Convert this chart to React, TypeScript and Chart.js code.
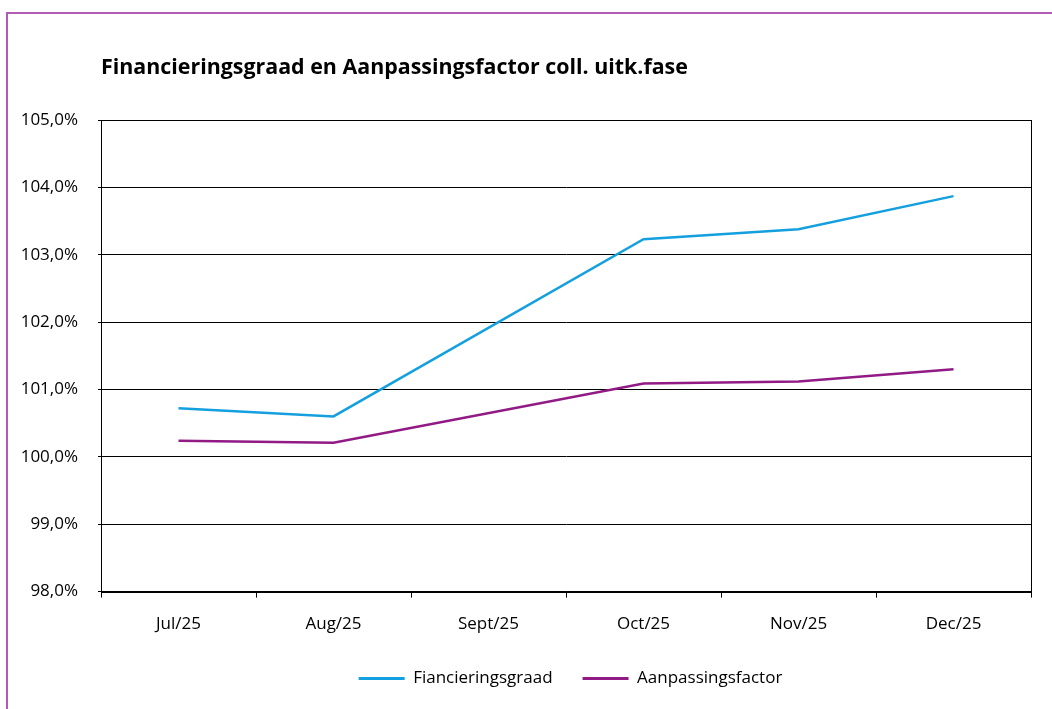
import React, { useEffect, useRef } from 'react';
import { Chart, registerables } from 'chart.js';

Chart.register(...registerables);

const categories = ['Jul/25', 'Aug/25', 'Sept/25', 'Oct/25', 'Nov/25', 'Dec/25'];
const financieringsgraad = [100.72, 100.6, null, 103.23, 103.38, 103.87];
const aanpassingsfactor = [100.24, 100.21, null, 101.09, 101.12, 101.3];
const yMin = 98;
const yMax = 105;
const yStep = 1;
const titleText = 'Financieringsgraad en Aanpassingsfactor coll. uitk.fase';
const seriesNames = ['Fiancieringsgraad', 'Aanpassingsfactor'];

const FONT = "'Open Sans', sans-serif";
const BLUE = '#14a0de';
const PURPLE = '#921a85';

const framePlugin = {
  id: 'frameAndTitle',
  afterLayout(chart: any) {
    const lg = chart.legend;
    if (lg) {
      const shiftX = 55;
      const shiftY = -10;
      lg.left += shiftX;
      lg.right += shiftX;
      lg.top += shiftY;
      lg.bottom += shiftY;
    }
  },
  afterDraw(chart: any) {
    const { ctx, chartArea } = chart;
    ctx.save();
    ctx.strokeStyle = '#000';
    ctx.lineWidth = 1;
    ctx.strokeRect(
      Math.round(chartArea.left) + 0.5,
      Math.round(chartArea.top) + 0.5,
      Math.round(chartArea.right - chartArea.left),
      Math.round(chartArea.bottom - chartArea.top)
    );
    ctx.fillStyle = '#000';
    ctx.font = `bold 21.4px ${FONT}`;
    ctx.textBaseline = 'middle';
    ctx.textAlign = 'left';
    ctx.fillText(titleText, chartArea.left, 68);
    ctx.restore();
  },
};

export default function App() {
  const ref = useRef<HTMLCanvasElement | null>(null);
  useEffect(() => {
    document.body.style.margin = '0';
    const chart = new Chart(ref.current as HTMLCanvasElement, {
      type: 'line',
      data: {
        labels: categories,
        datasets: [
          {
            label: seriesNames[0],
            data: financieringsgraad,
            borderColor: BLUE,
            backgroundColor: BLUE,
            borderWidth: 2.5,
            pointRadius: 0,
            tension: 0,
            spanGaps: true,
          },
          {
            label: seriesNames[1],
            data: aanpassingsfactor,
            borderColor: PURPLE,
            backgroundColor: PURPLE,
            borderWidth: 2.5,
            pointRadius: 0,
            tension: 0,
            spanGaps: true,
          },
        ],
      },
      plugins: [framePlugin],
      options: {
        animation: false,
        responsive: false,
        layout: { padding: { top: 120, right: 21, left: 0, bottom: 2 } },
        plugins: {
          title: { display: false },
          tooltip: { enabled: false },
          legend: {
            position: 'bottom',
            labels: {
              font: { family: FONT, size: 17 },
              color: '#000',
              boxWidth: 46,
              boxHeight: 3,
              padding: 30,
              generateLabels: (c: any) =>
                c.data.datasets.map((d: any, i: number) => ({
                  text: d.label,
                  fillStyle: d.borderColor,
                  strokeStyle: d.borderColor,
                  lineWidth: 0,
                  hidden: false,
                  datasetIndex: i,
                  fontColor: '#000',
                })),
            },
          },
        },
        scales: {
          x: {
            offset: true,
            border: { color: '#000', width: 1 },
            grid: { drawOnChartArea: false, drawTicks: true, tickLength: 6, color: '#000', offset: true },
            ticks: { font: { family: FONT, size: 17 }, color: '#000', padding: 16, maxRotation: 0 },
          },
          y: {
            min: yMin,
            max: yMax,
            border: { color: '#000', width: 1 },
            grid: { color: '#000', lineWidth: 1, tickLength: 3 },
            ticks: {
              stepSize: yStep,
              font: { family: FONT, size: 17 },
              color: '#000',
              padding: 20,
              callback: (v: any) => Number(v).toFixed(1).replace('.', ',') + '%',
            },
            afterFit: (s: any) => {
              s.width = 101;
            },
          },
        },
      },
    } as any);
    return () => chart.destroy();
  }, []);
  return (
    <div style={{ position: 'relative', width: 1052, height: 709, overflow: 'hidden', background: '#fff' }}>
      <div
        style={{
          position: 'absolute',
          left: 6,
          top: 12,
          width: 1100,
          height: 800,
          border: '2px solid #b35ab3',
          boxSizing: 'border-box',
        }}
      />
      <canvas ref={ref} width={1052} height={709} style={{ position: 'absolute', left: 0, top: 0 }} />
    </div>
  );
}
